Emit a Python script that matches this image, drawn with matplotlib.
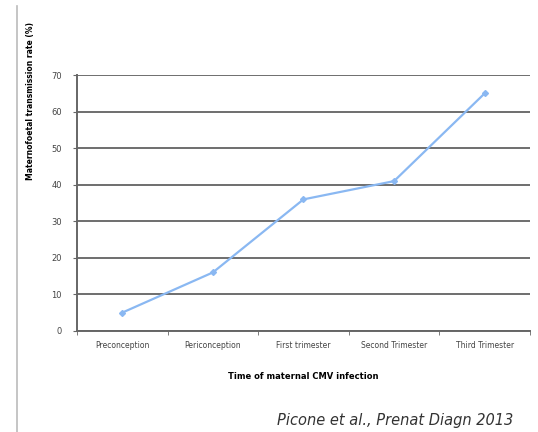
import numpy as np
import matplotlib.pyplot as plt
from matplotlib.lines import Line2D

timing = ['Preconception', 'Periconception', 'First trimester',
          'Second Trimester', 'Third Trimester']
rate = [5, 16, 36, 41, 65]
yticks = [0, 10, 20, 30, 40, 50, 60, 70]

fig = plt.figure(figsize=(5.38, 4.32), dpi=100)
ax = fig.add_axes([0.143, 0.234, 0.842, 0.592])

x = np.arange(len(timing))
ax.plot(x, rate, color='#8ab8f2', lw=1.6, marker='D', ms=3,
        mfc='#8ab8f2', mec='#8ab8f2')

ax.set_xlim(-0.5, len(timing) - 0.5)
ax.set_ylim(0, 70)
ax.set_yticks(yticks)
ax.set_yticklabels([str(v) for v in yticks], fontsize=6, color='#444444')
ax.yaxis.grid(True, color='#555555', lw=1.2)
ax.set_axisbelow(True)

ax.set_xticks(x)
ax.set_xticklabels(timing, fontsize=5.5, color='#444444')
ax.tick_params(axis='x', length=0, pad=7)
ax.set_xticks(np.arange(len(timing) + 1) - 0.5, minor=True)
ax.tick_params(axis='x', which='minor', length=3, color='#666666', direction='out')
ax.tick_params(axis='y', length=3, color='#666666', direction='out', pad=8)

for s in ['top', 'right']:
    ax.spines[s].set_visible(False)
for s in ['left', 'bottom']:
    ax.spines[s].set_color('#666666')
    ax.spines[s].set_linewidth(1.4)

ax.set_xlabel('Time of maternal CMV infection', fontsize=6, fontweight='bold',
              labelpad=16)
fig.text(0.056, 0.95, 'Maternofoetal transmission rate (%)', rotation=90,
         fontsize=5.5, fontweight='bold', ha='center', va='top')

fig.text(0.735, 0.027, 'Picone et al., Prenat Diagn 2013', style='italic',
         fontsize=10.5, color='#333333', ha='center', va='center')

# thin vertical rule at the left edge
fig.add_artist(Line2D([0.032, 0.032], [0.0, 0.985], color='#bbbbbb', lw=1.2,
                      transform=fig.transFigure))

fig.savefig('out.png', dpi=100)
